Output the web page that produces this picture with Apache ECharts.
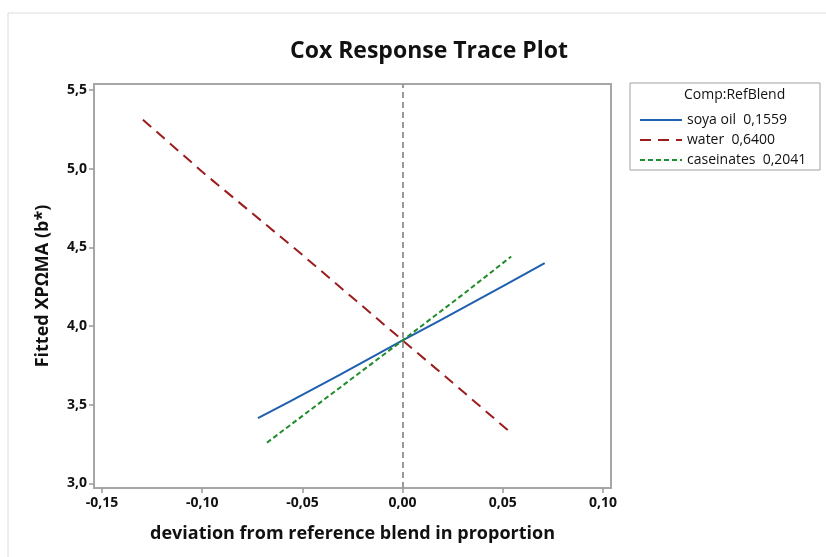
<!DOCTYPE html>
<html>
<head>
<meta charset="utf-8">
<script src="https://cdn.jsdelivr.net/npm/echarts@6/dist/echarts.min.js"></script>
<style>
  html, body { margin: 0; padding: 0; background: #fff; }
  #chart { width: 826px; height: 557px; }
</style>
</head>
<body>
<div id="chart"></div>
<script>
// Components of the reference blend and their proportions
const components = ['soya oil', 'water', 'caseinates'];
const refBlend = ['0,1559', '0,6400', '0,2041'];

// Fitted response along each Cox trace (deviation, fitted value)
const soyaDev = [-0.0722, -0.0564, -0.0314, 0, 0.0185, 0.0517, 0.0709];
const soyaFit = [3.415, 3.520, 3.690, 3.909, 4.035, 4.265, 4.400];

const waterDev = [-0.1296, -0.10, -0.05, 0, 0.025, 0.055];
const waterFit = [5.311, 4.980, 4.452, 3.909, 3.640, 3.311];

const caseDev = [-0.0677, -0.04, 0, 0.03, 0.0542];
const caseFit = [3.259, 3.525, 3.909, 4.200, 4.442];

// Axis ticks
const xTicks = [-0.15, -0.10, -0.05, 0.00, 0.05, 0.10];
const yTicks = [3.0, 3.5, 4.0, 4.5, 5.0, 5.5];

const FONT = 'Open Sans';
const comma = (v, d) => v.toFixed(d).replace('.', ',');
const pairs = (xs, ys) => xs.map((x, i) => [x, ys[i]]);
const names = components.map((c, i) => c + '  ' + refBlend[i]);

const chart = echarts.init(document.getElementById('chart'));
chart.setOption({
  animation: false,
  backgroundColor: '#fff',
  title: {
    text: 'Cox Response Trace Plot',
    left: 424, top: 35, textAlign: 'center',
    textStyle: { fontFamily: FONT, fontSize: 23, fontWeight: 'bold', color: '#111' }
  },
  grid: {
    left: 94, top: 84, right: 215, bottom: 69,
    show: true, borderColor: '#a6a6a6', borderWidth: 2, backgroundColor: '#fff'
  },
  legend: {
    orient: 'vertical', left: 634, top: 108,
    itemWidth: 42, itemHeight: 14, itemGap: 6,
    itemStyle: { opacity: 0 },
    textStyle: { fontFamily: FONT, fontSize: 14, color: '#111' },
    data: names
  },
  xAxis: {
    type: 'value', min: -0.154, max: 0.104,
    name: 'deviation from reference blend in proportion',
    nameLocation: 'middle', nameGap: 37,
    nameTextStyle: { fontFamily: FONT, fontSize: 18, fontWeight: 'bold', color: '#111' },
    axisLine: { show: false, onZero: false },
    splitLine: { show: false },
    axisTick: { show: true, length: 5, lineStyle: { color: '#999', width: 1.5 }, customValues: xTicks },
    axisLabel: {
      customValues: xTicks, margin: 8,
      fontFamily: FONT, fontSize: 14, fontWeight: 'bold', color: '#111',
      formatter: v => comma(v, 2)
    }
  },
  yAxis: {
    type: 'value', min: 2.971, max: 5.538,
    name: 'Fitted XPΩMA (b*)',
    nameLocation: 'middle', nameGap: 42, nameRotate: 90,
    nameTextStyle: { fontFamily: FONT, fontSize: 18, fontWeight: 'bold', color: '#111' },
    axisLine: { show: false, onZero: false },
    splitLine: { show: false },
    axisTick: { show: true, length: 5, lineStyle: { color: '#999', width: 1.5 }, customValues: yTicks },
    axisLabel: {
      customValues: yTicks, margin: 7,
      fontFamily: FONT, fontSize: 14, fontWeight: 'bold', color: '#111',
      formatter: v => comma(v, 1)
    }
  },
  graphic: [
    { type: 'rect', silent: true, z: -1,
      shape: { x: 8, y: 13, width: 900, height: 700 },
      style: { fill: 'none', stroke: '#dcdcdc', lineWidth: 1 } },
    { type: 'rect', silent: true,
      shape: { x: 630, y: 83, width: 190, height: 87 },
      style: { fill: '#fff', stroke: '#a0a0a0', lineWidth: 1 } },
    { type: 'text', silent: true, z: 10, left: 684, top: 88,
      style: { text: 'Comp:RefBlend', fontFamily: FONT, fontSize: 14, fill: '#111' } }
  ],
  series: [
    {
      name: names[0], type: 'line', symbol: 'none', smooth: false,
      data: pairs(soyaDev, soyaFit),
      lineStyle: { color: '#1f5fb0', width: 2 },
      itemStyle: { color: '#1f5fb0' },
      markLine: {
        silent: true, symbol: 'none', label: { show: false },
        lineStyle: { color: '#999', type: [6, 4], width: 2 },
        data: [{ xAxis: 0 }]
      }
    },
    {
      name: names[1], type: 'line', symbol: 'none',
      data: pairs(waterDev, waterFit),
      lineStyle: { color: '#9b1c1c', width: 2, type: [11, 7] },
      itemStyle: { color: '#9b1c1c' }
    },
    {
      name: names[2], type: 'line', symbol: 'none',
      data: pairs(caseDev, caseFit),
      lineStyle: { color: '#1e8c2a', width: 2, type: [5, 3] },
      itemStyle: { color: '#1e8c2a' }
    }
  ]
});
</script>
</body>
</html>
